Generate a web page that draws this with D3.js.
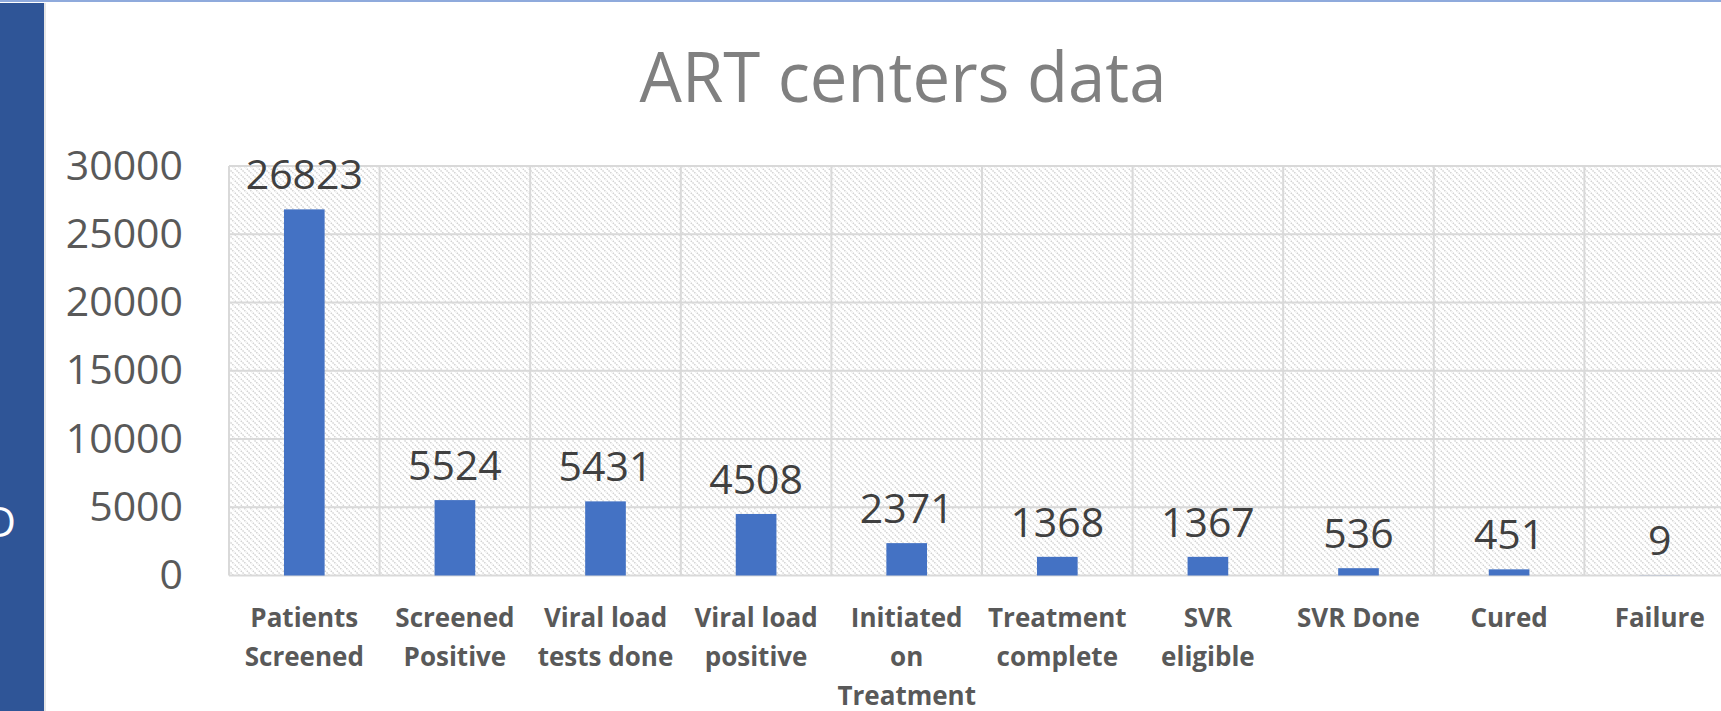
<!DOCTYPE html>
<html>
<head>
<meta charset="utf-8">
<script src="https://cdn.jsdelivr.net/npm/d3@7"></script>
<style>
  body { margin: 0; background: #fff; overflow: hidden; }
  text { font-family: 'Open Sans', sans-serif; }
</style>
</head>
<body>
<div id="container"></div>
<script>
const categories = [
  'Patients\nScreened', 'Screened\nPositive', 'Viral load\ntests done', 'Viral load\npositive',
  'Initiated\non\nTreatment', 'Treatment\ncomplete', 'SVR\neligible', 'SVR Done', 'Cured', 'Failure'
];
const values = [26823, 5524, 5431, 4508, 2371, 1368, 1367, 536, 451, 9];
const yTicks = [0, 5000, 10000, 15000, 20000, 25000, 30000];
const title = 'ART centers data';

const width = 1721;
const height = 711;

const svg = d3.select('#container').append('svg')
  .attr('width', width)
  .attr('height', height);

// hatch fill of the plot area
const defs = svg.append('defs');
defs.append('pattern')
  .attr('id', 'hatch')
  .attr('patternUnits', 'userSpaceOnUse')
  .attr('width', 6)
  .attr('height', 6)
  .call(p => {
    p.append('rect').attr('width', 6).attr('height', 6).attr('fill', '#fff');
    p.append('path')
      .attr('d', 'M-1,-1 L7,7 M-1,5 L1,7 M5,-1 L7,1')
      .attr('stroke', '#d0d0d0')
      .attr('stroke-width', 1.4)
      .attr('stroke-dasharray', '1.5,1');
  });

// slide chrome: top line and dark left strip
svg.append('rect').attr('x', 0).attr('y', 0).attr('width', width).attr('height', 2).attr('fill', '#8faadc');
svg.append('rect').attr('x', 0).attr('y', 3).attr('width', 44).attr('height', height).attr('fill', '#2f5597');
svg.append('rect').attr('x', 44).attr('y', 3).attr('width', 2).attr('height', height).attr('fill', '#e6e6e6');
svg.append('text')
  .attr('x', 16).attr('y', 537)
  .attr('text-anchor', 'end')
  .attr('fill', '#fff')
  .style('font-size', '42px')
  .text('D');

const x = d3.scaleBand()
  .domain(categories)
  .range([229, 1735])
  .paddingInner(0)
  .paddingOuter(0);

const y = d3.scaleLinear()
  .domain([0, 30000])
  .range([575.5, 166]);

const plot = svg.append('g');

plot.append('rect')
  .attr('x', x.range()[0])
  .attr('y', y(30000))
  .attr('width', x.range()[1] - x.range()[0])
  .attr('height', y(0) - y(30000))
  .attr('fill', 'url(#hatch)');

// gridlines
plot.append('g')
  .selectAll('line')
  .data(yTicks)
  .enter()
  .append('line')
  .attr('x1', x.range()[0])
  .attr('x2', x.range()[1])
  .attr('y1', d => y(d))
  .attr('y2', d => y(d))
  .attr('stroke', '#d9d9d9')
  .attr('stroke-width', 2);

plot.append('g')
  .selectAll('line')
  .data(categories)
  .enter()
  .append('line')
  .attr('x1', d => x(d))
  .attr('x2', d => x(d))
  .attr('y1', y(30000))
  .attr('y2', y(0))
  .attr('stroke', '#d9d9d9')
  .attr('stroke-width', 2);

// y axis labels
const yAxis = svg.append('g')
  .attr('transform', `translate(${x.range()[0]},0)`)
  .call(d3.axisLeft(y).tickValues(yTicks).tickSize(0).tickPadding(46).tickFormat(d3.format('d')));
yAxis.select('.domain').remove();
yAxis.selectAll('text')
  .attr('fill', '#595959')
  .style('font-size', '41px')
  .style('font-family', "'Open Sans', sans-serif");

// bars
const barW = x.bandwidth() * 0.27;
const data = categories.map((c, i) => ({cat: c, value: values[i]}));

plot.append('g')
  .selectAll('rect')
  .data(data)
  .enter()
  .append('rect')
  .attr('x', d => x(d.cat) + x.bandwidth() / 2 - barW / 2)
  .attr('y', d => y(d.value))
  .attr('width', barW)
  .attr('height', d => y(0) - y(d.value))
  .attr('fill', '#4472c4');

// data labels
plot.append('g')
  .selectAll('text')
  .data(data)
  .enter()
  .append('text')
  .attr('x', d => x(d.cat) + x.bandwidth() / 2)
  .attr('y', d => y(d.value) - 20)
  .attr('text-anchor', 'middle')
  .attr('fill', '#404040')
  .style('font-size', '41px')
  .text(d => d.value);

// category labels, one tspan per line
const xLabels = svg.append('g')
  .selectAll('text')
  .data(categories)
  .enter()
  .append('text')
  .attr('text-anchor', 'middle')
  .attr('fill', '#595959')
  .style('font-size', '26px')
  .style('font-weight', 'bold');

xLabels.selectAll('tspan')
  .data(d => d.split('\n').map(line => ({line, cat: d})))
  .enter()
  .append('tspan')
  .attr('x', d => x(d.cat) + x.bandwidth() / 2)
  .attr('y', (d, i) => 627 + i * 39)
  .text(d => d.line);

// title
svg.append('text')
  .attr('x', 903)
  .attr('y', 102)
  .attr('text-anchor', 'middle')
  .attr('fill', '#808080')
  .attr('textLength', 527)
  .attr('lengthAdjust', 'spacingAndGlyphs')
  .style('font-size', '70px')
  .text(title);
</script>
</body>
</html>
